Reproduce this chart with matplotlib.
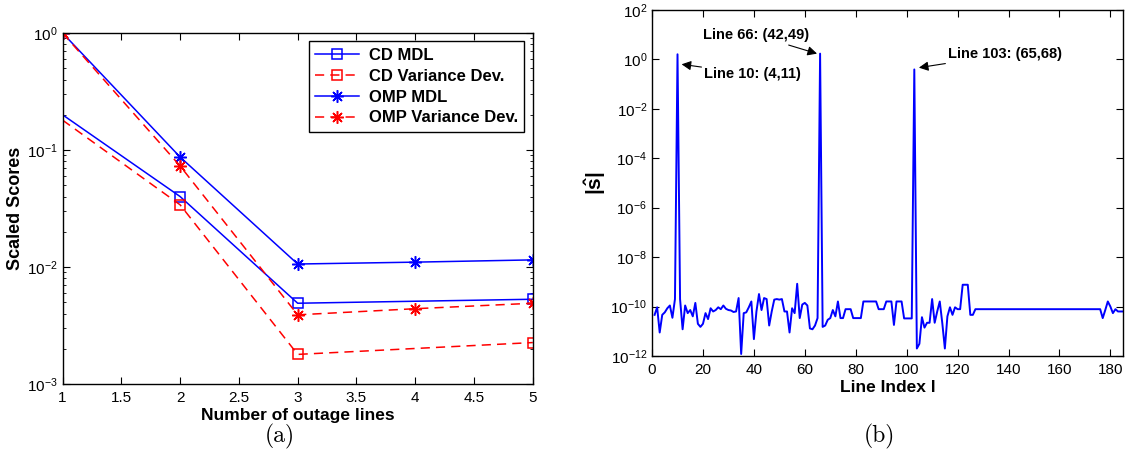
import numpy as np
import matplotlib
matplotlib.use("Agg")
import matplotlib.pyplot as plt
from matplotlib.ticker import NullLocator, FixedLocator
from matplotlib.font_manager import FontProperties

plt.rcParams['font.family'] = ['Liberation Sans', 'DejaVu Sans']
plt.rcParams['mathtext.fontset'] = 'custom'
plt.rcParams['mathtext.rm'] = 'Liberation Sans'
plt.rcParams['mathtext.bf'] = 'Liberation Sans:bold'

# ---- (a) scaled scores vs number of outage lines
n_omp = [1, 2, 3, 4, 5]
omp_mdl = [1.0, 0.087, 0.0106, 0.0110, 0.0115]
omp_var = [1.0, 0.073, 0.0039, 0.0044, 0.0049]
n_cd = [1, 2, 3, 5]
cd_mdl = [0.20, 0.040, 0.0049, 0.0053]
cd_var = [0.18, 0.034, 0.00179, 0.00226]

# ---- (b) |s_hat| over line index (1..186)
s_hat = ([4.6e-11, 9.3e-11, 8.9e-12, 4.6e-11, 5.8e-11, 8.5e-11, 1.1e-10, 3.5e-11, 2.0e-10, 1.6,
          2.0e-10, 1.2e-11, 1.1e-10, 5.4e-11, 7.2e-11, 4.0e-11, 1.4e-10, 2.0e-11, 1.5e-11, 2.0e-11,
          5.4e-11, 3.1e-11, 8.5e-11, 6.3e-11, 7.2e-11, 9.3e-11, 7.8e-11, 1.1e-10, 8.1e-11, 7.2e-11,
          6.9e-11, 6.0e-11, 6.3e-11, 2.2e-10, 1.2e-12, 5.4e-11, 5.8e-11, 9.3e-11, 1.6e-10, 4.8e-12,
          6.3e-11, 3.2e-10, 7.2e-11, 2.2e-10, 2.0e-10, 1.7e-11, 6.3e-11, 1.9e-10, 2.0e-10, 1.9e-10,
          2.0e-10, 6.3e-11, 6.3e-11, 8.9e-12, 8.5e-11, 5.4e-11, 8.3e-10, 3.4e-11, 1.2e-10, 1.4e-10,
          1.1e-10, 1.3e-11, 1.2e-11, 1.7e-11, 3.4e-11, 1.7, 1.5e-11, 1.7e-11, 2.9e-11, 3.4e-11,
          7.2e-11, 4.0e-11, 1.6e-10, 3.4e-11, 3.4e-11, 7.8e-11, 7.8e-11, 7.8e-11]
         + [3.4e-11] * 4 + [1.6e-10] * 6 + [7.8e-11] * 3 + [1.6e-10] * 3 + [1.8e-11]
         + [1.6e-10] * 3 + [3.3e-11] * 4
         + [0.39, 2.0e-12, 3.1e-12, 3.7e-11, 1.4e-11, 2.2e-11, 2.2e-11, 2.0e-10, 2.2e-11, 6.3e-11,
            1.6e-10, 2.1e-11, 2.0e-12, 4.0e-11, 9.3e-11, 4.6e-11, 9.3e-11, 7.8e-11, 7.8e-11]
         + [7.6e-10] * 3 + [4.6e-11] * 2 + [7.8e-11] * 50
         + [3.4e-11, 7.2e-11, 1.6e-10, 1.0e-10, 5.4e-11, 7.8e-11, 6.3e-11, 6.3e-11, 6.3e-11, 6.3e-11])
line_idx = np.arange(1, len(s_hat) + 1)

fig = plt.figure(figsize=(11.25, 4.5), dpi=100)

star = (8, 2, 0)
dash = (6, 4)
ax1 = fig.add_axes([0.0556, 0.1467, 0.418, 0.78])
ax1.semilogy(n_cd, cd_mdl, 'b-', marker='s', lw=1.1, ms=7, mfc='none', mew=1.1,
             markevery=[1, 2, 3], label='CD MDL')
ax1.semilogy(n_cd, cd_var, 'r--', marker='s', lw=1.1, ms=7, mfc='none', mew=1.1, dashes=dash,
             markevery=[1, 2, 3], label='CD Variance Dev.')
ax1.semilogy(n_omp, omp_mdl, 'b-', marker=star, lw=1.1, ms=9, mew=1.1, label='OMP MDL')
ax1.semilogy(n_omp, omp_var, 'r--', marker=star, lw=1.1, ms=9, mew=1.1, dashes=dash,
             label='OMP Variance Dev.')
ax1.set_xlim(1, 5)
ax1.set_ylim(1e-3, 1)
ax1.set_xticks(np.arange(1, 5.01, 0.5))
ax1.set_xticklabels(['1', '1.5', '2', '2.5', '3', '3.5', '4', '4.5', '5'])
ax1.set_xlabel('Number of outage lines', fontsize=12.5, fontweight='bold', labelpad=2)
ax1.set_ylabel('Scaled Scores', fontsize=13, fontweight='bold', labelpad=2)
leg_font = FontProperties(family=['Liberation Sans', 'DejaVu Sans'], weight='bold', size=12)
leg = ax1.legend(loc='upper right', fancybox=False, edgecolor='k', framealpha=1,
                 prop=leg_font, handlelength=2.6, handletextpad=0.6,
                 borderaxespad=0.5, labelspacing=0.35)
leg.get_frame().set_linewidth(1.0)

ax2 = fig.add_axes([0.5796, 0.209, 0.4187, 0.769])
ax2.semilogy(line_idx, s_hat, color='b', lw=1.4)
ax2.set_xlim(0, 185)
ax2.set_ylim(1e-12, 1e2)
ax2.set_xticks(np.arange(0, 181, 20))
ax2.yaxis.set_major_locator(FixedLocator([10.0 ** k for k in range(-12, 3, 2)]))
ax2.yaxis.set_minor_locator(NullLocator())
ax2.set_xlabel('Line Index l', fontsize=12.5, fontweight='bold', labelpad=2)
ax2.set_ylabel(r'$\mathbf{|\hat{s}|}$', fontsize=15, labelpad=2)

ann = dict(fontsize=10.5, fontweight='bold',
           arrowprops=dict(arrowstyle='-|>', color='k', lw=0.8, mutation_scale=14, shrinkA=0, shrinkB=0))
ax2.annotate('Line 10: (4,11)', xy=(11.6, 0.63), xytext=(20.5, 0.25), ha='left', va='center', **ann)
ax2.annotate('Line 66: (42,49)', xy=(64.8, 1.7), xytext=(61.8, 9.4), ha='right', va='center', **ann)
ax2.annotate('Line 103: (65,68)', xy=(104.8, 0.46), xytext=(116.3, 1.6), ha='left', va='center', **ann)

for ax in (ax1, ax2):
    ax.tick_params(which='both', direction='in', top=True, right=True, labelsize=11)
    ax.tick_params(which='major', length=5)
    ax.tick_params(which='minor', length=2.5)
    ax.tick_params(axis='x', pad=5)
    for sp in ax.spines.values():
        sp.set_linewidth(1.0)
ax1.xaxis.set_minor_locator(NullLocator())
ax2.xaxis.set_minor_locator(NullLocator())

fig.text(0.249, 0.031, '(a)', family='cmr10', fontsize=17, ha='center', va='center')
fig.text(0.782, 0.031, '(b)', family='cmr10', fontsize=17, ha='center', va='center')

fig.savefig('out.png', dpi=100)
